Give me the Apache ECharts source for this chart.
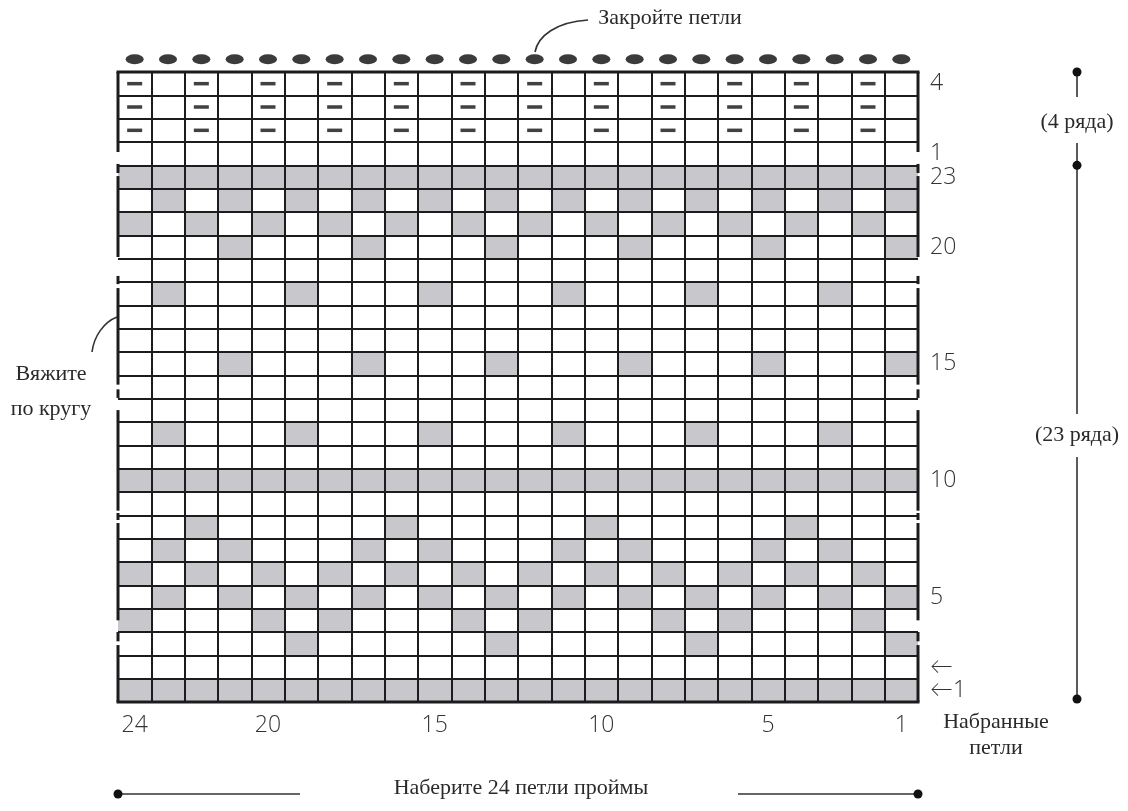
<!DOCTYPE html>
<html>
<head>
<meta charset="utf-8">
<script src="https://cdn.jsdelivr.net/npm/echarts@6/dist/echarts.min.js"></script>
<style>
  html, body { margin: 0; padding: 0; background: #fff; }
  #main { width: 1128px; height: 811px; }
</style>
</head>
<body>
<div id="main"></div>
<script>
// петли слева направо (24 ... 1)
var stitchLabels = ['24','23','22','21','20','19','18','17','16','15','14','13','12','11','10','9','8','7','6','5','4','3','2','1'];
var shownStitches = ['24','20','15','10','5','1'];

// ряды снизу вверх: 23 ряда узора, затем 4 ряда резинки
var rowIds = ['m1','m2','m3','m4','m5','m6','m7','m8','m9','m10','m11','m12','m13','m14','m15','m16','m17','m18','m19','m20','m21','m22','m23','t1','t2','t3','t4'];
var rowLabels = ['←1','←','','','5','','','','','10','','','','','15','','','','','20','','','23','1','','','4'];

// '#' серая клетка, '.' пустая, '-' изнаночная петля
var chartRows = [
  '########################', // 1
  '........................', // 2
  '.....#.....#.....#.....#', // 3
  '#...#.#...#.#...#.#...#.', // 4
  '.#.#.#.#.#.#.#.#.#.#.#.#', // 5
  '#.#.#.#.#.#.#.#.#.#.#.#.', // 6
  '.#.#...#.#...#.#...#.#..', // 7
  '..#.....#.....#.....#...', // 8
  '........................', // 9
  '########################', // 10
  '........................', // 11
  '.#...#...#...#...#...#..', // 12
  '........................', // 13
  '........................', // 14
  '...#...#...#...#...#...#', // 15
  '........................', // 16
  '........................', // 17
  '.#...#...#...#...#...#..', // 18
  '........................', // 19
  '...#...#...#...#...#...#', // 20
  '#.#.#.#.#.#.#.#.#.#.#.#.', // 21
  '.#.#.#.#.#.#.#.#.#.#.#.#', // 22
  '########################', // 23
  '........................', // t1
  '-.-.-.-.-.-.-.-.-.-.-.-.', // t2
  '-.-.-.-.-.-.-.-.-.-.-.-.', // t3
  '-.-.-.-.-.-.-.-.-.-.-.-.'  // t4
];

var greyCells = [];
var purlCells = [];
chartRows.forEach(function (row, r) {
  for (var c = 0; c < row.length; c++) {
    if (row[c] === '#') greyCells.push([c, r]);
    if (row[c] === '-') purlCells.push([c, r]);
  }
});
var bindOff = stitchLabels.map(function (s, i) { return [i, rowIds.length - 1]; });

var gridL = 118, gridT = 72, gridR = 210, gridB = 109;
var W = 1128, H = 811;
var plotW = W - gridL - gridR, plotH = H - gridT - gridB;
var rowH = plotH / rowIds.length;
var ink = '#1c1c1c';
var serif = '"Liberation Serif", "DejaVu Serif", serif';
var numFont = '"Open Sans", Lato, sans-serif';

var chart = echarts.init(document.getElementById('main'));

var option = {
  backgroundColor: '#fff',
  animation: false,
  grid: { left: gridL, top: gridT, right: gridR, bottom: gridB },
  xAxis: {
    type: 'category',
    data: stitchLabels,
    z: 10,
    axisLine: { show: false },
    axisTick: { show: false },
    axisLabel: {
      interval: 0,
      margin: 12,
      color: '#333',
      fontFamily: numFont,
      fontWeight: 300,
      fontSize: 23,
      formatter: function (v) { return shownStitches.indexOf(v) >= 0 ? v : ''; }
    },
    splitLine: { show: true, interval: 0, showMinLine: false, showMaxLine: false, lineStyle: { color: ink, width: 2 } }
  },
  yAxis: {
    type: 'category',
    data: rowIds,
    position: 'right',
    z: 10,
    axisLine: { show: false },
    axisTick: { show: false },
    axisLabel: {
      interval: 0,
      margin: 12,
      align: 'left',
      color: '#333',
      fontFamily: numFont,
      fontWeight: 300,
      fontSize: 23,
      formatter: function (v, i) { return rowLabels[i]; }
    },
    splitLine: { show: true, interval: 0, lineStyle: { color: ink, width: 2 } }
  },
  series: [
    {
      name: 'cells',
      type: 'custom',
      z: 1,
      data: greyCells,
      renderItem: function (params, api) {
        var c = api.coord([api.value(0), api.value(1)]);
        var s = api.size([1, 1]);
        return {
          type: 'rect',
          shape: { x: c[0] - s[0] / 2, y: c[1] - s[1] / 2, width: s[0], height: s[1] },
          style: { fill: '#c8c8cc' }
        };
      }
    },
    {
      name: 'purl',
      type: 'scatter',
      z: 12,
      data: purlCells,
      symbol: 'rect',
      symbolSize: [15, 3.5],
      itemStyle: { color: '#111' }
    },
    {
      name: 'bind off',
      type: 'scatter',
      z: 12,
      clip: false,
      data: bindOff,
      symbol: 'circle',
      symbolSize: [18, 10],
      symbolOffset: [0, -24.5],
      itemStyle: { color: '#0a0a0a' }
    }
  ]
};
chart.setOption(option);

// края схемы с разрывами (вязание по кругу), в долях ряда сверху
var borderSegs = [[0, 3.43], [3.94, 4.33], [4.46, 7.93], [8.74, 9.09], [9.26, 13.4], [13.6, 13.97],
  [14.49, 18.8], [18.9, 19.2], [19.33, 23.5], [24.0, 24.4], [24.56, 27]];

var g = [];
[gridL, gridL + plotW].forEach(function (x) {
  borderSegs.forEach(function (sg) {
    g.push({ type: 'line', z: 20, shape: { x1: x, y1: gridT + sg[0] * rowH, x2: x, y2: gridT + sg[1] * rowH },
      style: { stroke: ink, lineWidth: 3 } });
  });
});
[gridT, gridT + plotH].forEach(function (y) {
  g.push({ type: 'line', z: 20, shape: { x1: gridL - 1.5, y1: y, x2: gridL + plotW + 1.5, y2: y },
    style: { stroke: ink, lineWidth: 3 } });
});

function txt(x, y, s, align) {
  return { type: 'text', z: 20, style: { x: x, y: y, text: s, fill: '#2a2a2a', font: '22px ' + serif,
    textAlign: align || 'center', textVerticalAlign: 'middle' } };
}
function dot(x, y) {
  return { type: 'circle', z: 20, shape: { cx: x, cy: y, r: 4.5 }, style: { fill: '#111' } };
}
function seg(x1, y1, x2, y2) {
  return { type: 'line', z: 20, shape: { x1: x1, y1: y1, x2: x2, y2: y2 }, style: { stroke: '#333', lineWidth: 1.6 } };
}

// верхняя подпись
g.push(txt(670, 18, 'Закройте петли'));
g.push({ type: 'bezierCurve', z: 20, shape: { x1: 588, y1: 20, cpx1: 556, cpy1: 22, cpx2: 538, cpy2: 36, x2: 535, y2: 52 },
  style: { stroke: '#333', lineWidth: 1.6, fill: null } });

// левая подпись
g.push(txt(51, 374, 'Вяжите'));
g.push(txt(51, 409, 'по кругу'));
g.push({ type: 'bezierCurve', z: 20, shape: { x1: 92, y1: 352, cpx1: 94, cpy1: 336, cpx2: 104, cpy2: 322, x2: 117, y2: 317 },
  style: { stroke: '#333', lineWidth: 1.6, fill: null } });

// правая шкала рядов
var mx = 1077;
g.push(seg(mx, gridT, mx, 97));
g.push(txt(mx, 122, '(4 ряда)'));
g.push(seg(mx, 143, mx, 414));
g.push(txt(mx, 435, '(23 ряда)'));
g.push(seg(mx, 457, mx, gridT + plotH - 3));
g.push(dot(mx, gridT));
g.push(dot(mx, gridT + 4 * rowH));
g.push(dot(mx, gridT + plotH - 3));

// набранные петли
g.push(txt(996, 722, 'Набранные'));
g.push(txt(996, 748, 'петли'));

// нижняя шкала
var by = 794;
g.push(seg(gridL, by, 300, by));
g.push(seg(738, by, gridL + plotW, by));
g.push(dot(gridL, by));
g.push(dot(gridL + plotW, by));
g.push(txt(521, 788, 'Наберите 24 петли проймы'));

chart.setOption({ graphic: g });
</script>
</body>
</html>
